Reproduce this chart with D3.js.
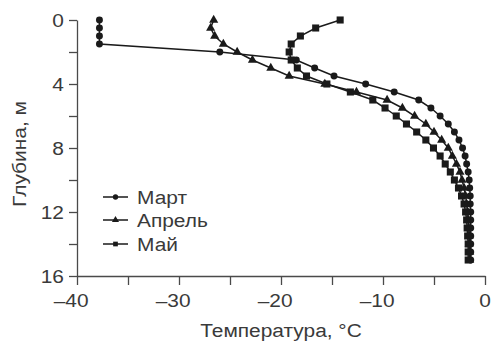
<!DOCTYPE html>
<html>
<head>
<meta charset="utf-8">
<script src="https://cdn.jsdelivr.net/npm/d3@7"></script>
<style>
  html, body { margin: 0; padding: 0; background: #fff; }
  svg { display: block; font-family: "Liberation Sans", Arial, sans-serif; }
</style>
</head>
<body>
<svg id="chart" width="491" height="341"></svg>
<script>
// Depth of each measurement, m
const depths = [0, 0.5, 1, 1.5, 2, 2.5, 3, 3.5, 4, 4.5, 5, 5.5, 6, 6.5, 7, 7.5,
  8, 8.5, 9, 9.5, 10, 10.5, 11, 11.5, 12, 12.5, 13, 13.5, 14, 14.5, 15];

// Temperature profiles, °C
const tempMarch = [-37.8, -37.8, -37.8, -37.8, -26.0, -18.5, -16.7, -14.8, -11.7, -8.9,
  -6.5, -5.3, -4.4, -3.6, -3.0, -2.55, -2.2, -1.95, -1.8, -1.65, -1.55, -1.5, -1.45,
  -1.45, -1.4, -1.4, -1.4, -1.4, -1.4, -1.4, -1.4];
const tempApril = [-26.6, -26.9, -26.5, -25.65, -24.3, -22.8, -21.0, -19.2, -15.7, -12.6,
  -9.6, -8.1, -6.9, -5.8, -5.0, -4.25, -3.6, -3.2, -2.8, -2.45, -2.25, -2.05, -1.9,
  -1.8, -1.7, -1.65, -1.6, -1.55, -1.55, -1.5, -1.5];
const tempMay = [-14.2, -16.6, -18.1, -19.0, -19.2, -19.0, -18.4, -17.5, -15.5, -13.2,
  -11.0, -9.8, -8.7, -7.7, -6.7, -5.8, -5.05, -4.4, -3.9, -3.4, -3.0, -2.6, -2.3,
  -2.05, -1.9, -1.8, -1.75, -1.7, -1.65, -1.65, -1.65];

const seriesNames = ["Март", "Апрель", "Май"];
const seriesMarkers = ["circle", "triangle", "square"];

const xTicks = [-40, -35, -30, -25, -20, -15, -10, -5, 0];
const xTickLabels = [-40, -30, -20, -10, 0];
const yTicks = [0, 2, 4, 6, 8, 10, 12, 14, 16];
const yTickLabels = [0, 4, 8, 12, 16];

const xTitle = "Температура, °C";
const yTitle = "Глубина, м";

const svg = d3.select("#chart");
const axisColor = "#4a4a4a";
const textColor = "#3a3a3a";
const markColor = "#1a1a1a";
const fontSize = 19;
const stretch = 1.1;   // slightly wide lettering

const x = d3.scaleLinear().domain([-40, 0]).range([77, 485]);
const y = d3.scaleLinear().domain([0, 16]).range([20, 276]);

// Text helper: places a label at (px, py) with widened glyphs
function label(px, py, str, anchor, extra) {
  return svg.append("text")
    .attr("transform", `translate(${px},${py})${extra || ""} scale(${stretch},1)`)
    .attr("text-anchor", anchor)
    .attr("font-size", fontSize)
    .attr("fill", textColor)
    .text(str);
}

// Axes
const gx = svg.append("g").attr("transform", `translate(0,${y(16)})`)
  .call(d3.axisBottom(x).tickValues(xTicks).tickSize(9).tickSizeOuter(0).tickFormat(""));
const gy = svg.append("g").attr("transform", `translate(${x(-40)},0)`)
  .call(d3.axisLeft(y).tickValues(yTicks).tickSize(8).tickSizeOuter(0).tickFormat(""));
[gx, gy].forEach(g => {
  g.select(".domain").attr("stroke", axisColor).attr("stroke-width", 1.3);
  g.selectAll(".tick line").attr("stroke", axisColor).attr("stroke-width", 1.3);
});

// X tick labels: digits centred on the tick, minus sign hanging to the left
const measure = svg.append("text").attr("font-size", fontSize).attr("visibility", "hidden");
xTickLabels.forEach(v => {
  const digits = String(Math.abs(v));
  measure.text(digits);
  const w = measure.node().getComputedTextLength() * stretch;
  label(x(v) + w / 2, 306.5, v < 0 ? "\u2013" + digits : digits, "end");
});
measure.remove();

yTickLabels.forEach(v => {
  label(64, y(v) + 7, String(v), "end");
});

// Axis titles
label(281, 336.5, xTitle, "middle");
label(26, 154, yTitle, "middle", " rotate(-90)");

// Marker shapes
const symbolType = { circle: d3.symbolCircle, triangle: d3.symbolTriangle, square: d3.symbolSquare };
const symbolSize = { circle: 38, triangle: 36, square: 50 };

const series = [tempMarch, tempApril, tempMay];
const line = d3.line().x(d => x(d[0])).y(d => y(d[1]));

series.forEach((temps, i) => {
  const pts = temps.map((t, k) => [t, depths[k]]);
  const kind = seriesMarkers[i];
  const g = svg.append("g");
  g.append("path")
    .attr("d", line(pts))
    .attr("fill", "none")
    .attr("stroke", markColor)
    .attr("stroke-width", 1.5);
  g.selectAll("path.m").data(pts).join("path")
    .attr("class", "m")
    .attr("transform", d => `translate(${x(d[0])},${y(d[1])})`)
    .attr("d", d3.symbol().type(symbolType[kind]).size(symbolSize[kind])())
    .attr("fill", markColor);
});

// Legend
const legendY = [197, 220, 244];
seriesNames.forEach((name, i) => {
  const kind = seriesMarkers[i];
  const g = svg.append("g");
  g.append("line")
    .attr("x1", 103).attr("x2", 128)
    .attr("y1", legendY[i]).attr("y2", legendY[i])
    .attr("stroke", markColor).attr("stroke-width", 1.5);
  g.append("path")
    .attr("transform", `translate(115.5,${legendY[i]})`)
    .attr("d", d3.symbol().type(symbolType[kind]).size(22)())
    .attr("fill", markColor);
  label(137, legendY[i] + 7, name, "start");
});
</script>
</body>
</html>
